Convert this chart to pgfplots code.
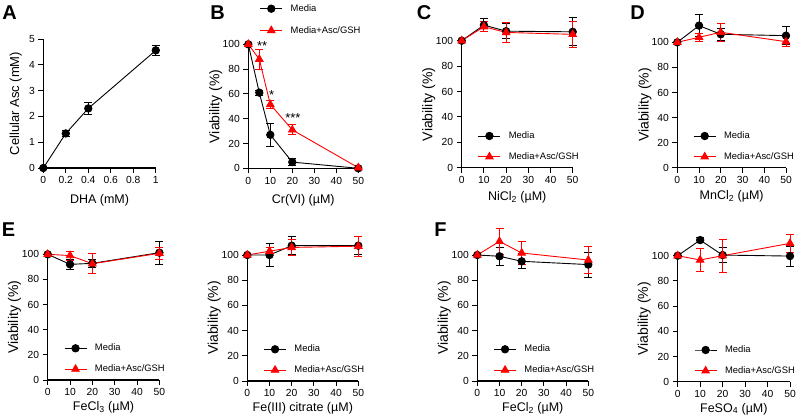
\documentclass[border=0pt]{standalone}
\usepackage{fontspec}
\setmainfont{Liberation Sans}
\usepackage{pgfplots}
\pgfplotsset{compat=1.18}

\pgfplotsset{
  panel/.style={
    scale only axis, width=111pt, height=126pt, anchor=south west,
    axis x line*=bottom, axis y line*=left,
    axis line style={line width=1.1pt},
    tick align=outside, major tick length=5pt,
    tick style={line width=0.9pt, black},
    xmin=0, xmax=50, ymin=0, ymax=100, clip=false,
    xtick={0,10,20,30,40,50}, ytick={0,20,40,60,80,100},
    tick label style={font=\fontsize{10.3}{12}\selectfont},
    xlabel style={font=\fontsize{12.5}{14}\selectfont},
    ylabel style={font=\fontsize{14}{16}\selectfont},
    /pgf/number format/assume math mode=true,
    ylabel={Viability (\%)},
    xlabel style={at={(axis description cs:0.5,-0.23)}, anchor=center},
    ylabel style={at={(axis description cs:-0.297,0.5)}, anchor=center},
    legend style={at={(0.145,0.036)}, anchor=south west, draw=none, fill=none,
      inner sep=0pt, row sep=8.5pt, font=\fontsize{9.4}{11}\selectfont,
      /tikz/every odd column/.style={column sep=6pt}},
    legend cell align=left,
    legend image code/.code={\draw[mark repeat=2,mark phase=2] plot coordinates {(0pt,0pt)(11pt,0pt)(22pt,0pt)};},
  },
  bottomrow/.style={xlabel style={at={(axis description cs:0.5,-0.215)}}},
  media/.style={black, line width=0.9pt, mark=*, mark size=3.7pt,
    mark options={solid, fill=black},
    error bars/.cd, y dir=both, y explicit,
    error bar style={line width=0.9pt},
    error mark options={rotate=90, line width=0.9pt, mark size=4pt}},
  asc/.style={red, line width=0.9pt, mark=triangle*, mark size=4.3pt,
    mark options={solid, fill=red},
    error bars/.cd, y dir=both, y explicit,
    error bar style={line width=0.9pt},
    error mark options={rotate=90, line width=0.9pt, mark size=4pt}},
}

\begin{document}
\begin{tikzpicture}
\useasboundingbox (0,0) rectangle (796pt,-417pt);

% panel letters
\begin{scope}[every node/.style={font=\fontsize{20}{20}\selectfont\bfseries}]
\node at (9.5pt,-12.5pt) {A};
\node at (217.5pt,-12.5pt) {B};
\node at (424pt,-12.5pt) {C};
\node at (637.5pt,-12.5pt) {D};
\node at (8.5pt,-230pt) {E};
\node at (440.5pt,-230pt) {F};
\end{scope}

% A
\begin{axis}[panel, at={(43.3pt,-168pt)}, width=112.5pt, height=129pt,
  xmin=0, xmax=1, ymin=0, ymax=5,
  xtick={0,0.2,0.4,0.6,0.8,1}, ytick={0,1,2,3,4,5},
  ylabel={Cellular Asc (mM)}, xlabel={DHA (mM)},
  ylabel style={at={(axis description cs:-0.245,0.5)}, font=\fontsize{13}{15}\selectfont},
  xlabel style={at={(axis description cs:0.5,-0.248)}}]
\addplot[media] coordinates {(0,0) +- (0,0) (0.2,1.34) +- (0,0.1) (0.4,2.31) +- (0,0.22) (1,4.56) +- (0,0.2)};
\end{axis}

% B
\begin{axis}[panel, at={(248.3pt,-168.3pt)}, width=110pt, height=124pt,
  xlabel={Cr(VI) (µM)},
  xlabel style={at={(axis description cs:0.5,-0.255)}},
  legend style={at={(0.103,1.06)}, row sep=9.5pt}]
\addplot[media] coordinates {(0,100) +- (0,0) (5,61) +- (0,2) (10,27) +- (0,9) (20,5) +- (0,3) (50,0) +- (0,0)};
\addplot[asc] coordinates {(0,100) +- (0,0) (5,88) +- (0,8) (10,51.5) +- (0,3.5) (20,31) +- (0,4) (50,0.5) +- (0,0)};
\legend{Media, Media+Asc/GSH}
\node[font=\fontsize{13}{13}\selectfont] at (axis cs:6.3,99) {**};
\node[font=\fontsize{13}{13}\selectfont] at (axis cs:10.6,58.8) {*};
\node[font=\fontsize{13}{13}\selectfont] at (axis cs:20.3,40.8) {***};
\end{axis}

% C
\begin{axis}[panel, at={(461.7pt,-167.7pt)}, width=111pt, height=127pt,
  xlabel={NiCl\textsubscript{2} (µM)}]
\addplot[media] coordinates {(0,100) +- (0,0) (10,112.3) +- (0,5) (20,107.5) +- (0,6) (50,107) +- (0,11)};
\addplot[asc] coordinates {(0,100) +- (0,0) (10,111) +- (0,4) (20,106.5) +- (0,8) (50,105) +- (0,10)};
\legend{Media, Media+Asc/GSH}
\end{axis}

% D
\begin{axis}[panel, at={(677.3pt,-167.7pt)}, width=108.7pt, height=125.4pt,
  xlabel={MnCl\textsubscript{2} (µM)}]
\addplot[media] coordinates {(0,100) +- (0,0) (10,113.3) +- (0,9) (20,106.4) +- (0,5) (50,105.3) +- (0,7)};
\addplot[asc] coordinates {(0,100) +- (0,0) (10,104) +- (0,3) (20,108) +- (0,7) (50,100.5) +- (0,4)};
\legend{Media, Media+Asc/GSH}
\end{axis}

% E FeCl3
\begin{axis}[panel, bottomrow, at={(47.7pt,-380pt)}, width=111.7pt, height=125.7pt,
  xlabel={FeCl\textsubscript{3} (µM)}]
\addplot[media] coordinates {(0,100) +- (0,0) (10,92) +- (0,4) (20,92.8) +- (0,3) (50,101.3) +- (0,9)};
\addplot[asc] coordinates {(0,100) +- (0,0) (10,99) +- (0,3.5) (20,92.5) +- (0,8) (50,100.8) +- (0,5)};
\legend{Media, Media+Asc/GSH}
\end{axis}

% E Fe(III) citrate
\begin{axis}[panel, bottomrow, at={(247.3pt,-381pt)}, width=111pt, height=126pt,
  xlabel={Fe(III) citrate (µM)}]
\addplot[media] coordinates {(0,100) +- (0,0) (10,100) +- (0,9) (20,107.4) +- (0,7) (50,107.4) +- (0,7)};
\addplot[asc] coordinates {(0,100) +- (0,0) (10,103) +- (0,3) (20,106) +- (0,6) (50,107) +- (0,8)};
\legend{Media, Media+Asc/GSH}
\end{axis}

% F FeCl2
\begin{axis}[panel, bottomrow, at={(477.3pt,-381pt)}, width=111pt, height=126pt,
  xlabel={FeCl\textsubscript{2} (µM)}]
\addplot[media] coordinates {(0,100) +- (0,0) (10,99) +- (0,7) (20,95) +- (0,6) (50,92.4) +- (0,10)};
\addplot[asc] coordinates {(0,100) +- (0,0) (10,110.8) +- (0,10) (20,101.6) +- (0,9) (50,96) +- (0,11)};
\legend{Media, Media+Asc/GSH}
\end{axis}

% F FeSO4
\begin{axis}[panel, bottomrow, at={(677.7pt,-381.7pt)}, width=112.3pt, height=126pt,
  xlabel={FeSO\textsubscript{4} (µM)}]
\addplot[media] coordinates {(0,100) +- (0,0) (10,112.4) +- (0,2) (20,100.5) +- (0,6) (50,99.7) +- (0,8)};
\addplot[asc] coordinates {(0,100) +- (0,0) (10,96.6) +- (0,9) (20,100) +- (0,13) (50,109.8) +- (0,7)};
\legend{Media, Media+Asc/GSH}
\end{axis}
\end{tikzpicture}
\end{document}
